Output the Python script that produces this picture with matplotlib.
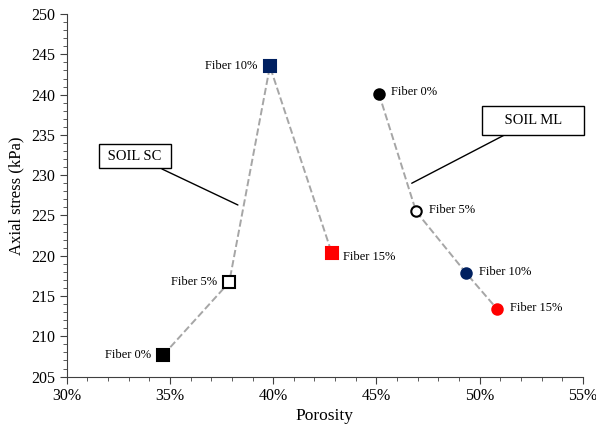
import matplotlib.pyplot as plt
from matplotlib.ticker import MultipleLocator, FuncFormatter

plt.rcParams['font.family'] = ['Liberation Serif', 'DejaVu Serif']

fiber_labels = ["Fiber 0%", "Fiber 5%", "Fiber 10%", "Fiber 15%"]

sc_porosity = [34.68, 37.87, 39.84, 42.83]
sc_stress = [207.7, 216.7, 243.5, 220.4]

ml_porosity = [45.12, 46.92, 49.36, 50.84]
ml_stress = [240.1, 225.5, 217.8, 213.4]

colors = ["black", "white", "#002060", "#FF0000"]
edges = ["black", "black", "#002060", "#FF0000"]


def main():
    fig = plt.figure(figsize=(5.96, 4.26), dpi=100)
    ax = fig.add_axes([0.112, 0.116, 0.866, 0.851])

    # dashed connecting lines
    ax.plot(sc_porosity, sc_stress, ls="--", color="#A6A6A6", lw=1.4, zorder=1)
    ax.plot(ml_porosity, ml_stress, ls="--", color="#A6A6A6", lw=1.4, zorder=1)

    for i in range(4):
        ax.plot(sc_porosity[i], sc_stress[i], marker="s", ms=8,
                mfc=colors[i], mec=edges[i], mew=1.5, ls="none", zorder=3)
        ax.plot(ml_porosity[i], ml_stress[i], marker="o", ms=7.5,
                mfc=colors[i], mec=edges[i], mew=1.5, ls="none", zorder=3)

    # SC labels sit left of points except 15%
    sc_ha = ["right", "right", "right", "left"]
    for i, lab in enumerate(fiber_labels):
        dx = -9 if sc_ha[i] == "right" else 8
        dy = 0 if sc_ha[i] == "right" else -3
        ax.annotate(lab, (sc_porosity[i], sc_stress[i]), xytext=(dx, dy),
                    textcoords="offset points", ha=sc_ha[i], va="center",
                    fontsize=9)
        ax.annotate(lab, (ml_porosity[i], ml_stress[i]), xytext=(9, 1),
                    textcoords="offset points", ha="left", va="center",
                    fontsize=9)

    ax.annotate(" SOIL SC ", xy=(38.29, 226.3), xytext=(33.3, 232.55),
                ha="center", va="center_baseline", fontsize=10.5,
                bbox=dict(boxstyle="square,pad=0.4", fc="white", ec="black", lw=1),
                arrowprops=dict(arrowstyle="-", color="black", lw=1,
                                shrinkA=0, shrinkB=0))
    ax.annotate("    SOIL ML    ", xy=(46.71, 229.0), xytext=(52.57, 237.0),
                ha="center", va="center_baseline", fontsize=10.5,
                bbox=dict(boxstyle="square,pad=0.55", fc="white", ec="black", lw=1),
                arrowprops=dict(arrowstyle="-", color="black", lw=1,
                                shrinkA=0, shrinkB=0))

    ax.set_xlim(30, 55)
    ax.set_ylim(205, 250)
    ax.xaxis.set_major_locator(MultipleLocator(5))
    ax.xaxis.set_minor_locator(MultipleLocator(1))
    ax.yaxis.set_major_locator(MultipleLocator(5))
    ax.yaxis.set_minor_locator(MultipleLocator(1))
    ax.xaxis.set_major_formatter(FuncFormatter(lambda v, p: f"{v:.0f}%"))
    ax.tick_params(which="major", length=5, labelsize=11.5, color="#404040")
    ax.tick_params(which="minor", length=3, color="#404040")
    ax.tick_params(axis="x", pad=3)

    for s in ["top", "right"]:
        ax.spines[s].set_visible(False)
    for s in ["left", "bottom"]:
        ax.spines[s].set_color("#404040")

    ax.set_xlabel("Porosity", fontsize=12.5, labelpad=3)
    ax.set_ylabel("Axial stress (kPa)", fontsize=12, labelpad=5)

    fig.savefig("out.png", dpi=100)


if __name__ == "__main__":
    main()
